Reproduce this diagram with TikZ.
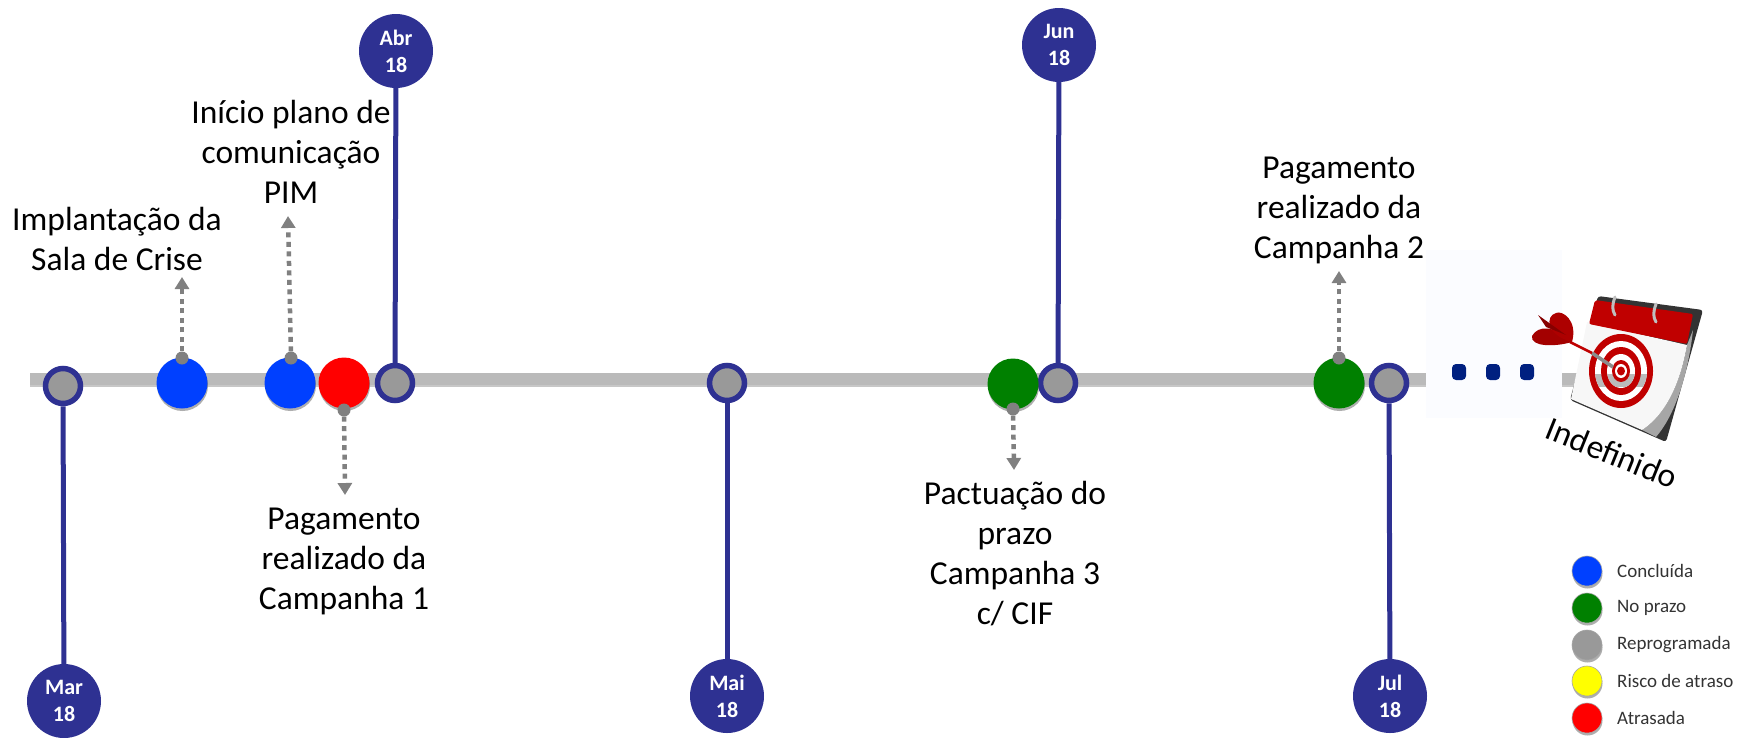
\documentclass[tikz,border=0pt]{standalone}
\usepackage{fontspec}
\setmainfont{Carlito}
\usetikzlibrary{shadows,arrows.meta}

\definecolor{navy}{HTML}{2E3192}
\definecolor{doneblue}{HTML}{0040FF}
\definecolor{ontimegreen}{HTML}{008000}
\definecolor{movedgray}{HTML}{999999}
\definecolor{riskyellow}{HTML}{FFFF00}
\definecolor{pingray}{HTML}{808080}
\definecolor{axisgray}{HTML}{BABABA}
\definecolor{calred}{HTML}{C00000}
\definecolor{gapblue}{HTML}{002080}
\definecolor{gappale}{HTML}{FBFCFF}

\tikzset{
  softshadow/.style={drop shadow={shadow xshift=0.5pt,shadow yshift=-2.5pt,opacity=.45,fill=black!70}},
  monthdot/.style={circle,fill=navy,text=white,minimum size=74pt,inner sep=0pt,align=center,font=\fontsize{22}{27}\selectfont\bfseries},
  ringdot/.style={circle,draw=navy,fill=movedgray,line width=5.5pt,minimum size=35pt,inner sep=0pt},
  statusdot/.style={circle,minimum size=51pt,inner sep=0pt,softshadow},
  keydot/.style={circle,minimum size=30pt,inner sep=0pt,draw=black!35,line width=.6pt,softshadow},
  keytext/.style={anchor=west,inner sep=0pt,text=black!80,font=\fontsize{19}{22}\selectfont},
  pindot/.style={circle,fill=pingray,minimum size=13pt,inner sep=0pt},
  stem/.style={navy,line width=5pt},
  pinline/.style={pingray,line width=4.5pt,dash pattern=on 5pt off 4.5pt,-{Triangle[length=12pt,width=14pt]}},
  note/.style={align=center,inner sep=0pt,font=\fontsize{33.5}{40}\selectfont},
  gapdot/.style={fill=gapblue,rounded corners=4pt}
}

\begin{document}
\begin{tikzpicture}[x=1pt,y=-1pt,>=latex]  % one unit is one pixel of the sheet, y runs down
    \useasboundingbox (0,0) rectangle (1755,737);

    % Time axis and the pale patch with the three dots
    \fill[black!22] (30,376) rectangle (1590,386.5);
    \fill[axisgray] (30,373) rectangle (1590,385);
    \fill[gappale] (1426,250) rectangle (1562,418);
    \fill[gapdot] (1452,364) rectangle (1466,380);
    \fill[gapdot] (1486,364) rectangle (1500,380);
    \fill[gapdot] (1520,364) rectangle (1534,380);

    % Months, with their stems
    \node[ringdot] (ringMar) at (63,386) {};
    \node[ringdot] (ringAbr) at (395,383) {};
    \node[ringdot] (ringMai) at (727,383) {};
    \node[ringdot] (ringJun) at (1058,383) {};
    \node[ringdot] (ringJul) at (1389,383) {};
    \node[monthdot] (monthMar) at (64,701) {Mar\\18};
    \node[monthdot] (monthAbr) at (396,51) {Abr\\18};
    \node[monthdot] (monthMai) at (727,696) {Mai\\18};
    \node[monthdot] (monthJun) at (1059,45) {Jun\\18};
    \node[monthdot] (monthJul) at (1390,696) {Jul\\18};
    \draw[stem] (ringMar) -- (monthMar);
    \draw[stem] (ringAbr) -- (monthAbr);
    \draw[stem] (ringMai) -- (monthMai);
    \draw[stem] (ringJun) -- (monthJun);
    \draw[stem] (ringJul) -- (monthJul);

    % Milestones
    \node[statusdot,fill=doneblue] (sala) at (182,383) {};
    \node[statusdot,fill=doneblue] (plano) at (290,383) {};
    \node[statusdot,fill=red] (pagUm) at (344,383) {};
    \node[statusdot,fill=ontimegreen] (pacto) at (1013,384) {};
    \node[statusdot,fill=ontimegreen] (pagDois) at (1339,383) {};

    % Dotted pointers to the notes
    \node[pindot] (pinSala) at (182,358) {};
    \node[pindot] (pinPlano) at (291,358) {};
    \node[pindot] (pinPagUm) at (344,410) {};
    \node[pindot] (pinPacto) at (1013,409) {};
    \node[pindot] (pinPagDois) at (1339,358) {};
    \coordinate (tipSala) at (182,277);
    \coordinate (tipPlano) at (288,216);
    \coordinate (tipPagUm) at (345,495);
    \coordinate (tipPacto) at (1014,470);
    \coordinate (tipPagDois) at (1339,271);
    \draw[pinline] (pinSala) -- (tipSala);
    \draw[pinline] (pinPlano) -- (tipPlano);
    \draw[pinline] (pinPagUm) -- (tipPagUm);
    \draw[pinline] (pinPacto) -- (tipPacto);
    \draw[pinline] (pinPagDois) -- (tipPagDois);

    % Notes
    \node[note] (noteSala) at (117,239) {Implantação da\\Sala de Crise};
    \node[note] (notePlano) at (291,152) {Início plano de\\comunicação\\PIM};
    \node[note] (notePagUm) at (344,561) {Pagamento\\realizado da\\Campanha 1};
    \node[note] (notePacto) at (1015,554) {Pactuação do\\prazo\\Campanha 3\\c/ CIF};
    \node[note] (notePagDois) at (1339,210) {Pagamento\\realizado da\\Campanha 2};

    % Calendar sheet
    \fill[black!80,rounded corners=3pt] (1598,296) -- (1703,310) -- (1666,442) -- (1570,400) -- cycle;
    \fill[black!35] (1687,345) .. controls (1680,385) and (1665,415) .. (1642,430) -- (1656,437) .. controls (1675,415) and (1688,375) .. (1693,330) -- cycle;
    \fill[white!97!black] (1587,322) -- (1687,345) .. controls (1680,385) and (1665,415) .. (1642,430) -- (1571,399) -- cycle;
    \fill[calred,rounded corners=2pt] (1595,300) -- (1693,314) -- (1687,344) -- (1589,324) -- cycle;
    \draw[black!25,line width=3pt,line cap=round] (1615,297) .. controls (1612,305) and (1612,310) .. (1615,315);
    \draw[black!25,line width=3pt,line cap=round] (1656,304) .. controls (1653,312) and (1653,317) .. (1656,322);

    % Target, with the axis showing through its pale rings
    \fill[calred] (1621,371) ellipse (32pt and 37pt);
    \fill[white] (1621,371) ellipse (26pt and 30pt);
    \begin{scope}
        \clip (1621,371) ellipse (26pt and 30pt);
        \fill[axisgray] (1590,374) rectangle (1652,387);
    \end{scope}
    \fill[calred] (1621,371) ellipse (20pt and 24pt);
    \fill[white] (1621,371) ellipse (14pt and 17pt);
    \begin{scope}
        \clip (1621,371) ellipse (14pt and 17pt);
        \fill[axisgray] (1600,374) rectangle (1640,387);
    \end{scope}
    \fill[calred] (1621,371) ellipse (9pt and 11pt);
    \fill[white] (1621,371) ellipse (6pt and 7pt);
    \fill[calred] (1621,371) ellipse (4pt and 4.5pt);

    % Dart
    \draw[black!45,line width=3.5pt] (1592,353) -- (1613,367);
    \draw[calred,line width=2.5pt] (1570,342) -- (1592,353);
    \fill[calred!85!black] (1572,342) .. controls (1555,325) and (1538,325) .. (1532,336) .. controls (1530,347) and (1555,347) .. (1572,342) -- cycle;
    \fill[calred!90!black] (1572,342) .. controls (1578,320) and (1562,310) .. (1556,313) .. controls (1545,316) and (1546,335) .. (1572,342) -- cycle;
    \fill[calred!70!black] (1538,315) -- (1566,335) -- (1546,327) -- cycle;

    \node[note,rotate=-22] (noteFim) at (1612,453) {Indefinido};

    % Key
    \node[keydot,fill=doneblue] (keyDone) at (1587,571) {};
    \node[keydot,fill=ontimegreen] (keyOnTime) at (1587,608) {};
    \node[keydot,fill=movedgray] (keyMoved) at (1587,645) {};
    \node[keydot,fill=riskyellow] (keyRisk) at (1587,681) {};
    \node[keydot,fill=red] (keyLate) at (1587,718) {};
    \node[keytext] at (1617,571) {Concluída};
    \node[keytext] at (1617,608) {No prazo};
    \node[keytext] at (1617,645) {Reprogramada};
    \node[keytext] at (1617,681) {Risco de atraso};
    \node[keytext] at (1617,718) {Atrasada};
\end{tikzpicture}
\end{document}
